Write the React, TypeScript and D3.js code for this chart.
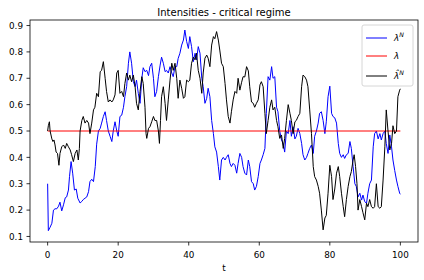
import React from 'react';
import * as d3 from 'd3';

const W = 424;
const H = 280;

const titleText = 'Intensities - critical regime';
const xLabel = 't';
const xTicks = [0, 20, 40, 60, 80, 100];
const yTicks = [0.1, 0.2, 0.3, 0.4, 0.5, 0.6, 0.7, 0.8, 0.9];

// constant intensity lambda
const lambdaTimes = [0, 100];
const lambdaValue = 0.5;

// lambda^N  (blue) : [t, value]
const lambdaN: [number, number][] = [
  [0, 0.30], [0.2, 0.122], [0.7, 0.135], [1.2, 0.15], [1.65, 0.20], [2.1, 0.205], [2.6, 0.205], [3.1, 0.215],
  [3.5, 0.23], [4.0, 0.197], [4.5, 0.22], [5.0, 0.247], [5.4, 0.25], [5.9, 0.276], [6.2, 0.327], [6.65, 0.384],
  [7.1, 0.34], [7.6, 0.276], [8.1, 0.28], [8.55, 0.245], [9.2, 0.227], [9.7, 0.233], [10.1, 0.24], [10.6, 0.245],
  [11.1, 0.25], [11.6, 0.27], [12.0, 0.308], [12.5, 0.317], [13.0, 0.308], [13.5, 0.365], [13.9, 0.45], [14.4, 0.50],
  [14.9, 0.51], [15.3, 0.53], [15.8, 0.555], [16.3, 0.573], [16.7, 0.54], [17.2, 0.50], [17.7, 0.48], [18.2, 0.46],
  [18.6, 0.50], [19.1, 0.535], [19.6, 0.50], [20.0, 0.48], [20.5, 0.555], [21.0, 0.56], [21.5, 0.59], [21.9, 0.63],
  [22.4, 0.668], [22.9, 0.757], [23.3, 0.80], [23.8, 0.757], [24.3, 0.687], [24.8, 0.668], [25.2, 0.693], [25.7, 0.643],
  [26.2, 0.605], [26.7, 0.70], [27.1, 0.74], [27.6, 0.725], [28.1, 0.73], [28.6, 0.71], [29.0, 0.744], [29.5, 0.757],
  [30.0, 0.70], [30.4, 0.63], [30.9, 0.65], [31.4, 0.706], [31.9, 0.75], [32.3, 0.78], [32.8, 0.757], [33.3, 0.725],
  [33.7, 0.73], [34.2, 0.72], [34.7, 0.744], [35.2, 0.72], [35.6, 0.706], [36.1, 0.744], [36.6, 0.744], [37.0, 0.775],
  [37.5, 0.795], [38.0, 0.826], [38.5, 0.845], [38.9, 0.883], [39.4, 0.84], [39.9, 0.813], [40.3, 0.858], [40.8, 0.82],
  [41.3, 0.763], [41.8, 0.795], [42.2, 0.77], [42.7, 0.82], [43.2, 0.795], [43.7, 0.70], [44.1, 0.668], [44.6, 0.605],
  [45.1, 0.624], [45.5, 0.662], [46.0, 0.63], [46.5, 0.54], [47.0, 0.49], [47.4, 0.44], [47.9, 0.42], [48.4, 0.365],
  [48.8, 0.314], [49.3, 0.39], [49.8, 0.40], [50.3, 0.39], [50.7, 0.40], [51.2, 0.41], [51.7, 0.377], [52.1, 0.365],
  [52.6, 0.377], [53.1, 0.37], [53.6, 0.34], [54.0, 0.377], [54.5, 0.415], [55.0, 0.40], [55.4, 0.365], [55.9, 0.34],
  [56.4, 0.333], [56.9, 0.39], [57.3, 0.365], [57.8, 0.308], [58.3, 0.30], [58.7, 0.276], [59.2, 0.29], [59.7, 0.327],
  [60.2, 0.377], [60.6, 0.39], [61.1, 0.41], [61.6, 0.434], [62.0, 0.567], [62.5, 0.706], [63.0, 0.693], [63.5, 0.744],
  [63.9, 0.70], [64.4, 0.706], [64.9, 0.59], [65.3, 0.573], [65.8, 0.50], [66.3, 0.466], [66.8, 0.453], [67.2, 0.42],
  [67.7, 0.50], [68.2, 0.49], [68.7, 0.54], [69.1, 0.48], [69.6, 0.516], [70.1, 0.47], [70.5, 0.48], [71.0, 0.51],
  [71.5, 0.49], [72.0, 0.453], [72.4, 0.41], [72.9, 0.39], [73.4, 0.40], [73.8, 0.415], [74.3, 0.434], [74.8, 0.447],
  [75.3, 0.415], [75.7, 0.48], [76.2, 0.50], [76.7, 0.53], [77.1, 0.567], [77.6, 0.573], [78.1, 0.54], [78.6, 0.49],
  [79.0, 0.535], [79.5, 0.63], [80.0, 0.67], [80.5, 0.567], [80.9, 0.555], [81.4, 0.55], [81.9, 0.53], [82.4, 0.453],
  [82.8, 0.415], [83.3, 0.40], [83.8, 0.41], [84.2, 0.396], [84.7, 0.41], [85.2, 0.415], [85.7, 0.46], [86.1, 0.434],
  [86.6, 0.365], [87.1, 0.30], [87.5, 0.29], [88.0, 0.25], [88.5, 0.264], [89.0, 0.238], [89.4, 0.257], [89.9, 0.232],
  [90.4, 0.226], [90.8, 0.264], [91.3, 0.30], [91.8, 0.314], [92.3, 0.44], [92.7, 0.49], [93.2, 0.50], [93.7, 0.47],
  [94.2, 0.49], [94.6, 0.466], [95.1, 0.49], [95.6, 0.50], [96.0, 0.453], [96.5, 0.415], [97.0, 0.485], [97.5, 0.44],
  [97.9, 0.39], [98.4, 0.35], [98.9, 0.314], [99.3, 0.29], [99.8, 0.264], [100, 0.26],
];

// hat lambda^N (black) : [t, value]
const lambdaHatN: [number, number][] = [
  [0, 0.50], [0.2, 0.52], [0.5, 0.535], [0.7, 0.50], [1.2, 0.47], [1.5, 0.46], [1.8, 0.466], [2.1, 0.447],
  [2.4, 0.42], [2.8, 0.415], [3.2, 0.37], [3.5, 0.415], [4.0, 0.44], [4.5, 0.447], [5.0, 0.434], [5.4, 0.453],
  [5.9, 0.44], [6.4, 0.428], [6.8, 0.41], [7.3, 0.384], [7.8, 0.415], [8.3, 0.428], [8.7, 0.39], [9.0, 0.434],
  [9.2, 0.50], [9.7, 0.54], [10.1, 0.555], [10.6, 0.53], [11.1, 0.54], [11.6, 0.53], [12.0, 0.49], [12.5, 0.53],
  [13.0, 0.58], [13.4, 0.59], [13.9, 0.643], [14.4, 0.63], [14.9, 0.725], [15.3, 0.73], [15.8, 0.763], [16.3, 0.70],
  [16.7, 0.65], [17.2, 0.61], [17.7, 0.618], [18.2, 0.61], [18.6, 0.618], [19.1, 0.637], [19.6, 0.72], [20.0, 0.73],
  [20.5, 0.643], [21.0, 0.65], [21.5, 0.63], [21.9, 0.68], [22.4, 0.72], [22.9, 0.693], [23.3, 0.712], [23.8, 0.687],
  [24.3, 0.712], [24.8, 0.668], [25.2, 0.605], [25.7, 0.58], [26.2, 0.65], [26.7, 0.706], [27.1, 0.68], [27.6, 0.59],
  [27.9, 0.49], [28.1, 0.472], [28.6, 0.51], [29.0, 0.516], [29.5, 0.535], [30.0, 0.555], [30.4, 0.54], [30.9, 0.54],
  [31.4, 0.50], [31.7, 0.453], [32.0, 0.54], [32.3, 0.63], [32.8, 0.668], [33.3, 0.605], [33.7, 0.54], [34.2, 0.618],
  [34.7, 0.693], [35.2, 0.757], [35.6, 0.73], [36.1, 0.757], [36.6, 0.70], [37.0, 0.624], [37.5, 0.693], [38.0, 0.662],
  [38.5, 0.624], [38.9, 0.63], [39.4, 0.693], [39.9, 0.687], [40.3, 0.693], [40.8, 0.757], [41.3, 0.78], [41.8, 0.77],
  [42.2, 0.795], [42.7, 0.73], [43.2, 0.70], [43.7, 0.643], [44.1, 0.72], [44.6, 0.776], [45.1, 0.788], [45.5, 0.776],
  [46.0, 0.744], [46.5, 0.826], [47.0, 0.858], [47.4, 0.85], [47.9, 0.877], [48.4, 0.845], [48.8, 0.807], [49.3, 0.757],
  [49.8, 0.744], [50.3, 0.68], [50.7, 0.618], [51.2, 0.555], [51.7, 0.53], [52.1, 0.573], [52.6, 0.618], [53.1, 0.65],
  [53.6, 0.643], [54.0, 0.70], [54.5, 0.655], [55.0, 0.685], [55.4, 0.706], [55.9, 0.705], [56.4, 0.744], [56.9, 0.728],
  [57.3, 0.668], [57.8, 0.61], [58.3, 0.605], [58.7, 0.59], [59.2, 0.605], [59.7, 0.618], [60.2, 0.675], [60.6, 0.687],
  [61.1, 0.668], [61.6, 0.567], [62.0, 0.49], [62.5, 0.54], [63.0, 0.59], [63.5, 0.618], [63.9, 0.58], [64.4, 0.59],
  [64.9, 0.54], [65.3, 0.516], [65.8, 0.472], [66.3, 0.485], [66.8, 0.434], [67.2, 0.472], [67.7, 0.54], [68.2, 0.60],
  [68.7, 0.567], [69.1, 0.54], [69.6, 0.49], [70.1, 0.535], [70.5, 0.54], [71.0, 0.555], [71.5, 0.567], [72.0, 0.668],
  [72.4, 0.712], [72.9, 0.706], [73.4, 0.693], [73.8, 0.668], [74.3, 0.58], [74.8, 0.49], [75.3, 0.365], [75.7, 0.327],
  [76.2, 0.314], [76.7, 0.29], [77.1, 0.264], [77.6, 0.20], [78.1, 0.125], [78.6, 0.17], [79.0, 0.18], [79.5, 0.264],
  [80.0, 0.37], [80.5, 0.327], [80.9, 0.24], [81.4, 0.28], [81.9, 0.34], [82.4, 0.365], [82.8, 0.327], [83.3, 0.264],
  [83.8, 0.213], [84.2, 0.175], [84.7, 0.24], [85.2, 0.29], [85.7, 0.327], [86.1, 0.346], [86.6, 0.39], [86.9, 0.41],
  [87.3, 0.365], [87.7, 0.30], [88.0, 0.20], [88.5, 0.24], [89.0, 0.213], [89.4, 0.19], [89.9, 0.163], [90.4, 0.226],
  [90.8, 0.213], [91.3, 0.24], [91.8, 0.213], [92.3, 0.207], [92.7, 0.213], [93.2, 0.30], [93.7, 0.213], [94.2, 0.207],
  [94.6, 0.213], [95.1, 0.314], [95.6, 0.44], [96.0, 0.58], [96.5, 0.50], [97.0, 0.428], [97.5, 0.453], [97.9, 0.52],
  [98.4, 0.49], [98.9, 0.50], [99.3, 0.63], [99.8, 0.655], [100, 0.66],
];

const FONT = '"DejaVu Sans", sans-serif';

export default function App() {
  const left = 30, right = 418, top = 20, bottom = 242;
  const x = d3.scaleLinear().domain([-5, 105]).range([left, right]);
  const y = d3.scaleLinear().domain([0.079, 0.921]).range([bottom, top]);
  const line = d3.line<[number, number]>().x(d => x(d[0])).y(d => y(d[1]));
  const redData: [number, number][] = lambdaTimes.map(t => [t, lambdaValue]);

  const legX = 362, legY = 25, legW = 51, legH = 61;
  const rows = [
    { color: '#0000ff', y: 38, kind: 'N' },
    { color: '#ff0000', y: 56, kind: 'L' },
    { color: '#000000', y: 76, kind: 'H' },
  ];

  return (
    <svg width={W} height={H} style={{ position: 'absolute', left: 0, top: 0, background: '#fff' }}
      fontFamily={FONT}>
      <rect x={0} y={0} width={W} height={H} fill="#fff" />
      <text x={(left + right) / 2} y={16} textAnchor="middle" fontSize={10} fill="#000">{titleText}</text>

      <defs>
        <clipPath id="plotclip"><rect x={left} y={top} width={right - left} height={bottom - top} /></clipPath>
      </defs>
      <g clipPath="url(#plotclip)" fill="none" strokeWidth={1} strokeLinejoin="round">
        <path d={line(lambdaN) || ''} stroke="#0000ff" />
        <path d={line(redData) || ''} stroke="#ff0000" />
        <path d={line(lambdaHatN) || ''} stroke="#000000" />
      </g>

      <rect x={left} y={top} width={right - left} height={bottom - top} fill="none" stroke="#000" strokeWidth={0.8} />

      {xTicks.map(t => (
        <g key={'x' + t}>
          <line x1={x(t)} x2={x(t)} y1={bottom} y2={bottom + 3.5} stroke="#000" strokeWidth={0.8} />
          <text x={x(t)} y={bottom + 15.5} textAnchor="middle" fontSize={8.8} fill="#000">{t}</text>
        </g>
      ))}
      {yTicks.map(v => (
        <g key={'y' + v}>
          <line x1={left - 3.5} x2={left} y1={y(v)} y2={y(v)} stroke="#000" strokeWidth={0.8} />
          <text x={left - 7} y={y(v) + 3.2} textAnchor="end" fontSize={8.8} fill="#000">{d3.format('.1f')(v)}</text>
        </g>
      ))}
      <text x={(left + right) / 2} y={270.5} textAnchor="middle" fontSize={8.8} fill="#000">{xLabel}</text>

      <rect x={legX} y={legY} width={legW} height={legH} rx={2} fill="#fff" fillOpacity={0.8} stroke="#cccccc" strokeWidth={0.8} />
      {rows.map(r => (
        <g key={r.kind}>
          <line x1={366} x2={387} y1={r.y} y2={r.y} stroke={r.color} strokeWidth={1} />
          {r.kind === 'N' && (
            <text x={394} y={r.y + 3} fontSize={8.8} fontStyle="italic" fill="#000">
              λ<tspan dy={-4} fontSize={6.2}>N</tspan>
            </text>
          )}
          {r.kind === 'L' && (
            <text x={394} y={r.y + 3} fontSize={8.8} fontStyle="italic" fill="#000">λ</text>
          )}
          {r.kind === 'H' && (
            <text x={394} y={r.y + 3} fontSize={8.8} fontStyle="italic" fill="#000">
              {'λ\u0302'}<tspan dy={-4} fontSize={6.2}>N</tspan>
            </text>
          )}
        </g>
      ))}
    </svg>
  );
}
